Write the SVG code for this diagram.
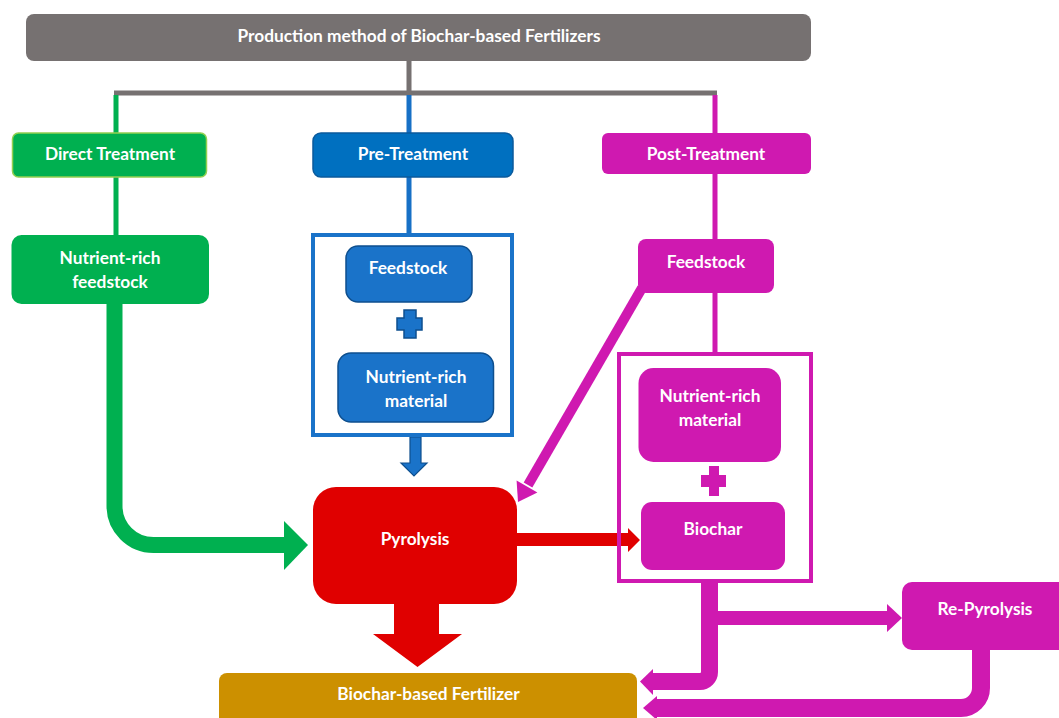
<svg xmlns="http://www.w3.org/2000/svg" width="1059" height="718" viewBox="0 0 1059 718">
<style>
text{font-family:Lato,"Liberation Sans",sans-serif;font-weight:bold;font-size:17.3px;fill:#ffffff;text-anchor:middle}
.gr{fill:#00b050}
.bl{fill:#1a73c9;stroke:#0e4f8e;stroke-width:1.5}
.mg{fill:#cf19b0}
.ln{fill:none;stroke-width:5}
</style>
<rect width="1059" height="718" fill="#ffffff"/>
<g id="connectors">
  <path class="ln" d="M409,61V93M114,93H717" stroke="#767171" stroke-width="4"/>
  <path class="ln" d="M116,95V133M116,177V236" stroke="#00b050"/>
  <path class="ln" d="M409,95V133M409,177V234" stroke="#1770c6"/>
  <path class="ln" d="M715,95V133M715,174V240M715,293V353" stroke="#cf19b0"/>
  <path d="M114.5,304V506A39,39 0 0 0 153.5,545H286" fill="none" stroke="#00b050" stroke-width="16"/>
  <polygon points="284,521 308,545 284,570" fill="#00b050"/>
  <polygon points="410,437 421,437 421,463 427,463 414,476 401,463 410,463" fill="#1a73c9" stroke="#0e4f8e" stroke-width="1.2"/>
  <polygon points="394,603 439,603 439,634 462,634 417.5,667 373,634 394,634" fill="#e00000"/>
  <polygon points="516,533 628,533 628,528 640,540 628,552 628,546 516,546" fill="#e00000"/>
  <line x1="642" y1="288" x2="528" y2="485" stroke="#cf19b0" stroke-width="10"/>
  <polygon points="518,502 516.6,480.4 537.4,492.4" fill="#cf19b0"/>
  <path d="M709.5,581V672A9.5,9.5 0 0 1 700,681.5H651" fill="none" stroke="#cf19b0" stroke-width="17"/>
  <polygon points="653,669 640,681.5 653,695" fill="#cf19b0"/>
  <path d="M709,618H889" stroke="#cf19b0" stroke-width="14"/>
  <polygon points="887,604 902,618 887,632" fill="#cf19b0"/>
  <path d="M981,649V688A20,20 0 0 1 961,708H654" fill="none" stroke="#cf19b0" stroke-width="18"/>
  <polygon points="657,696 643,708 657,720" fill="#cf19b0"/>
</g>
<g id="title">
  <rect x="26" y="14" width="785" height="47" rx="8" fill="#767171"/>
  <text x="419" y="41.5">Production method of Biochar-based Fertilizers</text>
</g>
<g id="direct-treatment">
  <rect x="12.5" y="133" width="194" height="44" rx="6" fill="#00b050" stroke="#92d050" stroke-width="1.5"/>
  <text x="110" y="160">Direct Treatment</text>
</g>
<g id="nutrient-rich-feedstock">
  <rect x="11.5" y="235" width="197.5" height="69" rx="10" class="gr"/>
  <text x="110" y="264">Nutrient-rich</text>
  <text x="110" y="288">feedstock</text>
</g>
<g id="pre-treatment">
  <rect x="313" y="133" width="200" height="44" rx="8" fill="#0070c0" stroke="#0a5a9c" stroke-width="1.5"/>
  <text x="413" y="160">Pre-Treatment</text>
</g>
<g id="pre-container">
  <rect x="313" y="235" width="199" height="200" fill="none" stroke="#1a73c9" stroke-width="4"/>
</g>
<g id="pre-feedstock">
  <rect x="346" y="246" width="126" height="56" rx="12" class="bl"/>
  <text x="408" y="274">Feedstock</text>
</g>
<g id="pre-plus">
  <path d="M404,310H416V318H422V330H416V338H404V330H397V318H404Z" class="bl"/>
</g>
<g id="pre-nutrient-material">
  <rect x="338" y="353" width="155.5" height="69" rx="13" class="bl"/>
  <text x="416" y="382.5">Nutrient-rich</text>
  <text x="416" y="407">material</text>
</g>
<g id="pyrolysis">
  <rect x="313" y="487" width="204" height="117" rx="23" fill="#e00000"/>
  <text x="415" y="545">Pyrolysis</text>
</g>
<g id="post-treatment">
  <rect x="602" y="133" width="209" height="41" rx="6" class="mg"/>
  <text x="706" y="160">Post-Treatment</text>
</g>
<g id="post-feedstock">
  <rect x="638" y="239" width="136" height="54" rx="8" class="mg"/>
  <text x="706" y="268">Feedstock</text>
</g>
<g id="post-container">
  <rect x="619" y="354" width="192" height="227" fill="none" stroke="#cf19b0" stroke-width="4"/>
</g>
<g id="post-nutrient-material">
  <rect x="638.5" y="368" width="142.5" height="94" rx="15" class="mg"/>
  <text x="710" y="402">Nutrient-rich</text>
  <text x="710" y="426">material</text>
</g>
<g id="post-plus">
  <path d="M709,466H719V475H726V487H719V496H709V487H701V475H709Z" class="mg"/>
</g>
<g id="biochar">
  <rect x="641" y="502" width="144" height="68" rx="11" class="mg"/>
  <text x="713" y="535">Biochar</text>
</g>
<g id="re-pyrolysis">
  <rect x="902" y="582" width="180" height="68" rx="10" class="mg"/>
  <text x="985" y="615">Re-Pyrolysis</text>
</g>
<g id="biochar-based-fertilizer">
  <rect x="219" y="673" width="418" height="60" rx="8" fill="#cc9000"/>
  <text x="428.5" y="700">Biochar-based Fertilizer</text>
</g>
</svg>
